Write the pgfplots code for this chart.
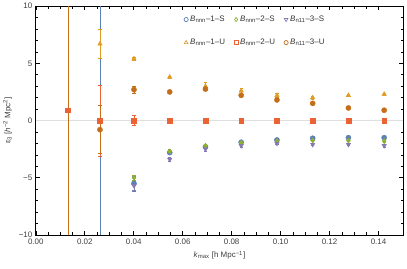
\documentclass[border=0pt]{standalone}
\usepackage{fontspec}
\setmainfont{Liberation Sans}
\usepackage{pgfplots}
\pgfplotsset{compat=1.18}
\definecolor{cA}{HTML}{5E81B5}
\definecolor{cB}{HTML}{E19C24}
\definecolor{cC}{HTML}{8FB032}
\definecolor{cD}{HTML}{EB6235}
\definecolor{cE}{HTML}{8778B3}
\definecolor{cF}{HTML}{C56E1A}
\begin{document}
\begin{tikzpicture}
\begin{axis}[
  scale only axis, width=367.5bp, height=229bp,
  xmin=0, xmax=0.15, ymin=-10, ymax=10,
  xtick={0,0.02,0.04,0.06,0.08,0.10,0.12,0.14},
  xticklabels={0.00,0.02,0.04,0.06,0.08,0.10,0.12,0.14},
  ytick={-10,-5,0,5,10},
  yticklabels={−10,−5,0,5,10},
  minor x tick num=3, minor y tick num=4,
  tick align=inside,
  major tick length=4bp, minor tick length=2.5bp,
  tick style={black, line width=0.6pt},
  axis line style={black, line width=0.7pt},
  ticklabel style={font=\fontsize{8}{9}\selectfont, text=black!75},
  label style={font=\fontsize{8}{9}\selectfont, text=black!75},
  xlabel={\textit{k}\textsubscript{max} [h Mpc\textsuperscript{−1}]},
  ylabel={ε\textsubscript{3} [\textit{h}\textsuperscript{−2} Mpc\textsuperscript{2}]},
  legend columns=2, transpose legend,
  legend cell align=left,
  legend style={at={(0.395,0.975)}, anchor=north west, draw=none, fill=none,
    font=\fontsize{8}{9}\selectfont, text=black!80, row sep=12bp,
    /tikz/every even column/.append style={column sep=7bp}},
  legend image code/.code={\draw[mark size=2.1bp, every mark/.append style={fill=white, line width=0.7pt}] plot coordinates {(0.15cm,0cm)};},
  error bars/error bar style={line width=0.6pt},
  error bars/error mark options={rotate=90, mark size=1.6bp, line width=0.6pt},
  every axis plot/.append style={only marks, mark size=2.6bp, mark options={line width=0.4pt}},
]
\addplot[gray!25, line width=1pt, no marks, sharp plot, forget plot] coordinates {(0,0) (0.15,0)};
% 1-S
\addplot[cA, mark=*, error bars/.cd, y dir=both, y explicit] coordinates {
(0.0262,-30) +- (0,60)
(0.0401,-5.5) +- (0,0.65)
(0.0547,-2.8) +- (0,0.15)
(0.0693,-2.3) +- (0,0.15)
(0.0839,-1.9) +- (0,0.12)
(0.0985,-1.7) +- (0,0.1)
(0.1131,-1.55) +- (0,0.1)
(0.1277,-1.5) +- (0,0.1)
(0.1423,-1.5) +- (0,0.1)
};
\addlegendentry{\textit{B}\textsubscript{nnn}–1–S}
% 1-U
\addplot[cB, mark=triangle*, error bars/.cd, y dir=both, y explicit] coordinates {
(0.0262,6.7) +- (0,1.25)
(0.0401,5.4) +- (0,0.15)
(0.0547,3.8) +- (0,0.1)
(0.0693,3.0) +- (0,0.3)
(0.0839,2.6) +- (0,0.25)
(0.0985,2.2) +- (0,0.15)
(0.1131,2.0) +- (0,0.15)
(0.1277,2.2) +- (0,0.1)
(0.1423,2.3) +- (0,0.1)
};
\addlegendentry{\textit{B}\textsubscript{nnn}–1–U}
% 2-S
\addplot[cC, mark=diamond*, error bars/.cd, y dir=both, y explicit] coordinates {
(0.0401,-5.0) +- (0,0.2)
(0.0547,-2.7) +- (0,0.15)
(0.0693,-2.2) +- (0,0.12)
(0.0839,-1.95) +- (0,0.1)
(0.0985,-1.8) +- (0,0.1)
(0.1131,-1.75) +- (0,0.1)
(0.1277,-1.75) +- (0,0.1)
(0.1423,-1.8) +- (0,0.1)
};
\addlegendentry{\textit{B}\textsubscript{nnn}–2–S}
% 2-U
\addplot[cD, mark=square*, mark size=2.3bp, error bars/.cd, y dir=both, y explicit] coordinates {
(0.0131,0.9) +- (0,0.05)
(0.0262,0.0) +- (0,3.1)
(0.0401,0.0) +- (0,0.45)
(0.0547,0.0) +- (0,0.08)
(0.0693,0.0) +- (0,0.08)
(0.0839,0.0) +- (0,0.08)
(0.0985,0.0) +- (0,0.08)
(0.1131,0.0) +- (0,0.08)
(0.1277,0.0) +- (0,0.08)
(0.1423,0.0) +- (0,0.08)
};
\addlegendentry{\textit{B}\textsubscript{nnn}–2–U}
% 3-S
\addplot[cE, mark=triangle*, mark options={rotate=180}, error bars/.cd, y dir=both, y explicit] coordinates {
(0.0401,-5.7) +- (0,0.4)
(0.0547,-3.4) +- (0,0.15)
(0.0693,-2.5) +- (0,0.15)
(0.0839,-2.2) +- (0,0.12)
(0.0985,-2.0) +- (0,0.12)
(0.1131,-2.1) +- (0,0.1)
(0.1277,-2.1) +- (0,0.1)
(0.1423,-2.2) +- (0,0.1)
};
\addlegendentry{\textit{B}\textsubscript{n11}–3–S}
% 3-U
\addplot[cF, mark=*, error bars/.cd, y dir=both, y explicit] coordinates {
(0.0131,20) +- (0,60)
(0.0262,-0.8) +- (0,2.1)
(0.0401,2.7) +- (0,0.3)
(0.0547,2.5) +- (0,0.12)
(0.0693,2.75) +- (0,0.15)
(0.0839,2.2) +- (0,0.12)
(0.0985,1.8) +- (0,0.1)
(0.1131,1.5) +- (0,0.1)
(0.1277,1.1) +- (0,0.1)
(0.1423,0.9) +- (0,0.1)
};
\addlegendentry{\textit{B}\textsubscript{n11}–3–U}
\end{axis}
\path (current axis.south west) ++(-35.5bp,-34bp) rectangle ([shift={(4bp,5bp)}]current axis.north east);
\end{tikzpicture}
\end{document}
